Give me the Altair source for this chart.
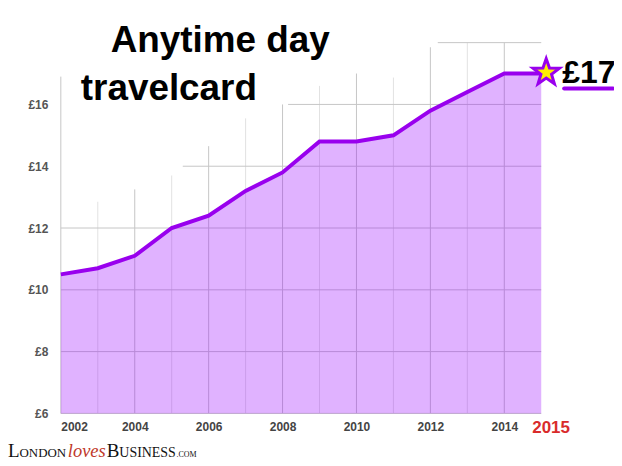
import altair as alt
import pandas as pd

years = list(range(2002, 2016))
fares = [10.5, 10.7, 11.1, 12.0, 12.4, 13.2, 13.8, 14.8, 14.8, 15.0, 15.8, 16.4, 17.0, 17.0]

# the gridlines stop at uneven heights in the original
major_years = [2002, 2004, 2006, 2008, 2010, 2012, 2014]
major_tops = [16.9, 13.25, 14.65, 16.0, 17.0, 17.85, 18.0]
minor_years = [2003, 2005, 2007, 2009, 2011, 2013]
minor_tops = [12.85, 13.7, 15.55, 16.6, 16.87, 18.0]
h_values = [6, 8, 10, 12, 14, 16, 18]
h_starts = [2002, 2002, 2002, 2002, 2005.3, 2008.15, 2012.2]

last_year = [2015]
last_fare = [17]

df = pd.DataFrame({'year': years, 'fare': fares, 'low': 6})
major = pd.DataFrame({'year': major_years, 'top': major_tops, 'low': 6})
minor = pd.DataFrame({'year': minor_years, 'top': minor_tops, 'low': 6})
horiz = pd.DataFrame({'value': h_values, 'start': h_starts, 'end': 2015})
star = pd.DataFrame({'year': last_year, 'fare': last_fare})

x_scale = alt.Scale(domain=[2002, 2015], nice=False, zero=False)
y_scale = alt.Scale(domain=[6, 18], nice=False, zero=False)
PURPLE = '#9900ee'
STAR = 'M0,-1L0.235,-0.324L0.951,-0.309L0.38,0.124L0.588,0.809L0,0.4L-0.588,0.809L-0.38,0.124L-0.951,-0.309L-0.235,-0.324Z'

x_enc = alt.X('year:Q', scale=x_scale, title=None, axis=alt.Axis(
    values=major_years, format='d', grid=False, domain=False, ticks=False,
    labelFontSize=12, labelFontWeight='bold', labelColor='#444444',
    labelFont='Liberation Sans', labelPadding=8))
y_enc = alt.Y('fare:Q', scale=y_scale, title=None, axis=alt.Axis(
    values=[6, 8, 10, 12, 14, 16], labelExpr="'£' + datum.value", grid=False,
    domain=False, ticks=False, labelFontSize=12, labelFontWeight='bold', labelColor='#555555',
    labelFont='Liberation Sans', labelPadding=13))

major_rules = alt.Chart(major).mark_rule(color='#c6c6c6', strokeWidth=1).encode(
    x=alt.X('year:Q', scale=x_scale), y=alt.Y('low:Q', scale=y_scale), y2='top:Q')
minor_rules = alt.Chart(minor).mark_rule(color='#e2e2e2', strokeWidth=1).encode(
    x=alt.X('year:Q', scale=x_scale), y=alt.Y('low:Q', scale=y_scale), y2='top:Q')
h_rules = alt.Chart(horiz).mark_rule(color='#c6c6c6', strokeWidth=1).encode(
    x=alt.X('start:Q', scale=x_scale), x2='end:Q', y=alt.Y('value:Q', scale=y_scale))

area = alt.Chart(df).mark_area(color='#9900ff', opacity=0.3).encode(x=x_enc, y=y_enc, y2='low:Q')
line = alt.Chart(df).mark_line(color=PURPLE, strokeWidth=4).encode(
    x=alt.X('year:Q', scale=x_scale), y=alt.Y('fare:Q', scale=y_scale))
marker = alt.Chart(star).mark_point(
    shape=STAR, size=780, filled=True, fill='#ffee00', stroke=PURPLE, strokeWidth=3, opacity=1
).encode(
    x=alt.X('year:Q', scale=x_scale), y=alt.Y('fare:Q', scale=y_scale),
    xOffset=alt.value(5), yOffset=alt.value(-1))


def label(text, x, y, size, **kw):
    # x, y are pixels from the plot's top left corner
    kw.setdefault('font', 'Liberation Sans')
    kw.setdefault('align', 'left')
    return alt.Chart(star).mark_text(text=text, fontSize=size, baseline='alphabetic', **kw).encode(
        x=alt.value(x), y=alt.value(y))


underline = alt.Chart(star).mark_rule(color=PURPLE, strokeWidth=4, strokeCap='round').encode(
    x=alt.value(505), x2=alt.value(554), y=alt.value(46))

texts = [
    label('Anytime day', 50, 9, 37, fontWeight='bold', color='black'),
    label('travelcard', 20, 58, 37, fontWeight='bold', color='black'),
    label('£17', 503, 40, 32, fontWeight='bold', color='black'),
    label('2015', 473, 392, 17, fontWeight='bold', color='#d92b2b'),
    # logo, small caps set by hand
    label('L', -53, 416, 19, font='Liberation Serif', color='#111111'),
    label('ONDON', -41.5, 416, 13, font='Liberation Serif', color='#111111'),
    label('loves', 7, 416, 18.5, font='Liberation Serif', fontStyle='italic', color='#c0392b'),
    label('B', 46, 416, 19, font='Liberation Serif', color='#111111'),
    label('USINESS', 58.7, 416, 14, font='Liberation Serif', color='#111111'),
    label('.COM', 116, 416, 8, font='Liberation Serif', color='#111111'),
]

chart = alt.layer(
    major_rules, minor_rules, h_rules, area, line, underline, marker, *texts
).properties(
    width=482, height=372,
    autosize=alt.AutoSizeParams(type='none'),
    padding={'left': 53, 'top': 34, 'right': 73, 'bottom': 50},
).configure_view(strokeWidth=0)

chart.save("out.html", embed_options={"renderer": "svg", "actions": False})
